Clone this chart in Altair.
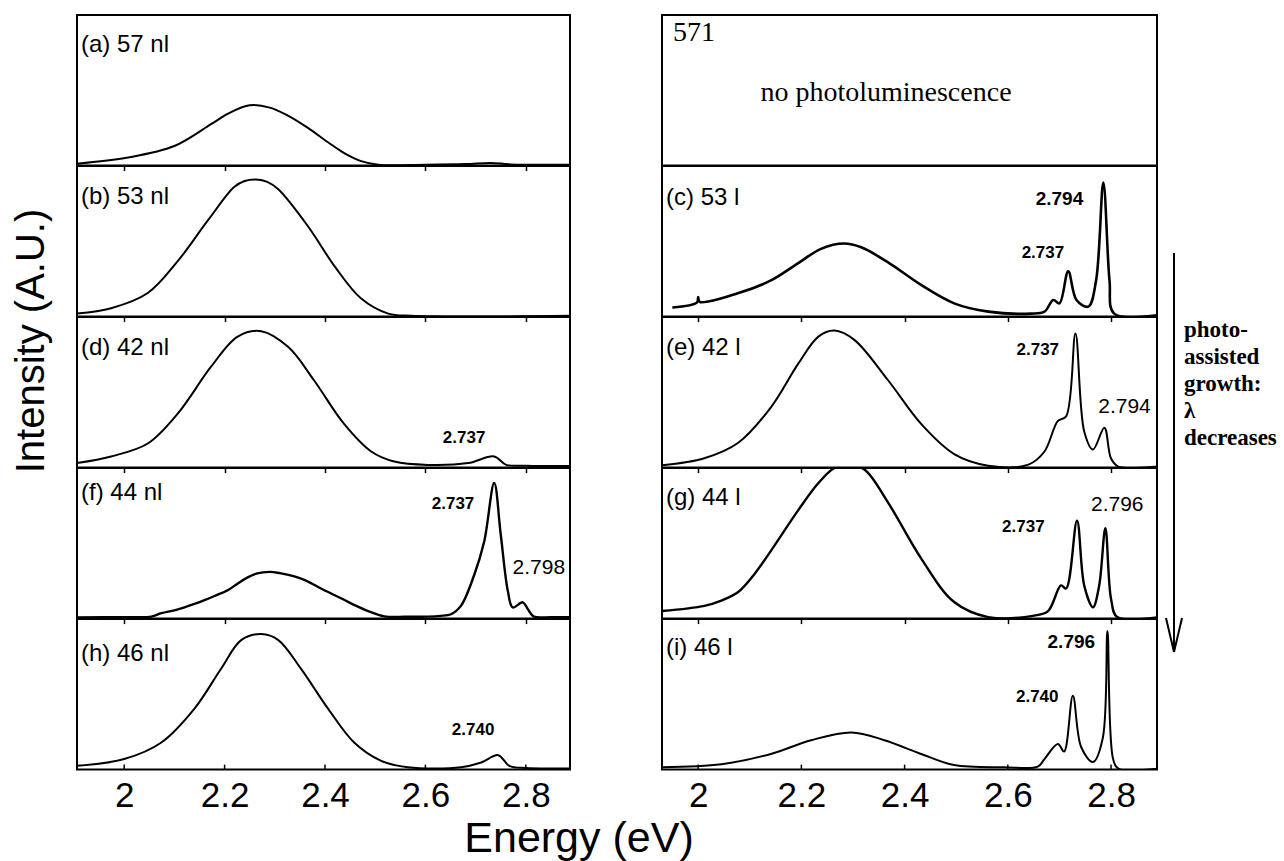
import altair as alt
import pandas as pd

# ---------------- data ----------------
TICK_VALUES = [2.0, 2.2, 2.4, 2.6, 2.8]
LEFT_DOMAIN = [1.906, 2.888]
RIGHT_DOMAIN = [1.930, 2.889]

# (a) 57 nl
A_E = [1.906, 2.008, 2.10, 2.173, 2.207, 2.25, 2.29, 2.327, 2.366, 2.406, 2.44, 2.472, 2.506, 2.60, 2.68, 2.73, 2.77, 2.888]
A_I = [0.013, 0.054, 0.13, 0.275, 0.345, 0.40, 0.385, 0.33, 0.25, 0.155, 0.08, 0.03, 0.006, 0.006, 0.01, 0.018, 0.008, 0.006]

# (b) 53 nl
B_E = [1.906, 1.974, 2.047, 2.107, 2.167, 2.219, 2.24, 2.263, 2.285, 2.307, 2.366, 2.42, 2.472, 2.526, 2.572, 2.888]
B_I = [0.02, 0.056, 0.157, 0.37, 0.64, 0.86, 0.90, 0.91, 0.895, 0.845, 0.60, 0.33, 0.12, 0.02, 0.005, 0.005]

# (d) 42 nl
D_E = [1.906, 1.974, 2.047, 2.107, 2.173, 2.226, 2.273, 2.327, 2.378, 2.438, 2.492, 2.538, 2.605, 2.685, 2.737, 2.761, 2.80, 2.888]
D_I = [0.03, 0.074, 0.16, 0.36, 0.67, 0.87, 0.906, 0.80, 0.58, 0.29, 0.107, 0.04, 0.018, 0.03, 0.074, 0.018, 0.013, 0.01]

# (f) 44 nl
F_E = [1.906, 2.0, 2.054, 2.074, 2.10, 2.12, 2.14, 2.16, 2.18, 2.207, 2.225, 2.247, 2.265, 2.289, 2.31,
       2.339, 2.36, 2.375, 2.392, 2.415, 2.438, 2.46, 2.486, 2.518, 2.56, 2.605, 2.63, 2.651, 2.671, 2.697,
       2.717, 2.737, 2.75, 2.764, 2.774, 2.794, 2.804, 2.816, 2.85, 2.888]
F_I = [0.008, 0.01, 0.013, 0.036, 0.055, 0.075, 0.097, 0.122, 0.15, 0.19, 0.23, 0.275, 0.30, 0.31, 0.302,
       0.28, 0.255, 0.23, 0.2, 0.162, 0.125, 0.088, 0.05, 0.015, 0.012, 0.013, 0.018, 0.029, 0.086, 0.288,
       0.51, 0.90, 0.56, 0.187, 0.074, 0.108, 0.063, 0.013, 0.01, 0.01]

# (h) 46 nl
H_E = [1.906, 2.0, 2.074, 2.14, 2.193, 2.233, 2.273, 2.307, 2.352, 2.406, 2.458, 2.512, 2.565, 2.671, 2.711, 2.745, 2.767, 2.80, 2.888]
H_I = [0.025, 0.07, 0.18, 0.405, 0.67, 0.86, 0.90, 0.86, 0.67, 0.405, 0.18, 0.058, 0.016, 0.016, 0.047, 0.096, 0.025, 0.01, 0.008]

# (c) 53 l
C_E = [1.95, 1.998, 2.0, 2.003, 2.077, 2.141, 2.194, 2.238, 2.283, 2.316, 2.368, 2.432, 2.496, 2.562, 2.645,
       2.671, 2.688, 2.70, 2.717, 2.733, 2.756, 2.771, 2.785, 2.797, 2.806, 2.889]
C_I = [0.06, 0.095, 0.13, 0.098, 0.155, 0.24, 0.355, 0.45, 0.485, 0.46, 0.36, 0.21, 0.088, 0.033, 0.02,
       0.033, 0.11, 0.088, 0.30, 0.11, 0.066, 0.24, 0.89, 0.24, 0.02, 0.008]

# (e) 42 l
E_E = [1.93, 2.012, 2.077, 2.141, 2.194, 2.233, 2.264, 2.302, 2.368, 2.432, 2.496, 2.562, 2.64, 2.671,
       2.697, 2.713, 2.731, 2.748, 2.765, 2.787, 2.80, 2.814, 2.889]
E_I = [0.015, 0.062, 0.163, 0.40, 0.69, 0.87, 0.91, 0.85, 0.58, 0.29, 0.09, 0.013, 0.02, 0.107,
       0.31, 0.34, 0.89, 0.24, 0.12, 0.264, 0.06, 0.007, 0.007]

# (g) 44 l
G_E = [1.93, 2.012, 2.045, 2.077, 2.11, 2.141, 2.194, 2.233, 2.264, 2.29, 2.322, 2.368, 2.432, 2.496, 2.562, 2.651,
       2.678, 2.703, 2.713, 2.734, 2.748, 2.765, 2.777, 2.789, 2.80, 2.812, 2.889]
G_I = [0.05, 0.085, 0.12, 0.175, 0.30, 0.45, 0.72, 0.90, 1.0, 1.02, 0.99, 0.77, 0.40, 0.11, 0.01, 0.02,
       0.05, 0.22, 0.20, 0.65, 0.22, 0.075, 0.22, 0.60, 0.13, 0.01, 0.008]

# (i) 46 l
I_E = [1.93, 2.045, 2.141, 2.219, 2.297, 2.361, 2.432, 2.496, 2.593, 2.658, 2.671, 2.697, 2.709, 2.726,
       2.742, 2.765, 2.784, 2.793, 2.804, 2.815, 2.889]
I_I = [0.016, 0.036, 0.104, 0.195, 0.247, 0.195, 0.104, 0.03, 0.016, 0.02, 0.07, 0.17, 0.12, 0.49,
       0.15, 0.05, 0.21, 0.92, 0.07, 0.005, 0.005]

# panel labels
LEFT_LABELS = ["(a) 57 nl", "(b) 53 nl", "(d) 42 nl", "(f) 44 nl", "(h) 46 nl"]
RIGHT_LABELS = ["(c) 53 l", "(e) 42 l", "(g) 44 l", "(i) 46 l"]

# peak labels: energy position, intensity position, text
D_PK_E, D_PK_I, D_PK_T = [2.677], [0.197], ["2.737"]
F_PK_E, F_PK_I, F_PK_T = [2.655], [0.76], ["2.737"]
F_BIG_E, F_BIG_I, F_BIG_T = [2.826], [0.333], ["2.798"]
H_PK_E, H_PK_I, H_PK_T = [2.695], [0.26], ["2.740"]
C_PK_E, C_PK_I, C_PK_T = [2.668], [0.42], ["2.737"]
C_MID_E, C_MID_I, C_MID_T = [2.70], [0.78], ["2.794"]
E_PK_E, E_PK_I, E_PK_T = [2.658], [0.78], ["2.737"]
E_BIG_E, E_BIG_I, E_BIG_T = [2.826], [0.40], ["2.794"]
G_PK_E, G_PK_I, G_PK_T = [2.63], [0.61], ["2.737"]
G_BIG_E, G_BIG_I, G_BIG_T = [2.812], [0.755], ["2.796"]
I_PK_E, I_PK_I, I_PK_T = [2.657], [0.48], ["2.740"]
I_MID_E, I_MID_I, I_MID_T = [2.723], [0.85], ["2.796"]

# ---------------- layout / style ----------------
W_L, W_R, H = 493, 495, 150.6
SANS = "Liberation Sans"
SERIF = "Liberation Serif"


def xenc(domain, bottom):
    return alt.X(
        "E:Q",
        scale=alt.Scale(domain=domain, nice=False, zero=False),
        axis=alt.Axis(values=TICK_VALUES, format="~g", labels=bottom, title=None,
                      domain=False, grid=False, ticks=not bottom, tickSize=5, tickWidth=1.5,
                      tickColor="black", labelFont=SANS, labelFontSize=35,
                      labelColor="black", labelPadding=9, labelFlush=False),
    )


YENC = alt.Y("I:Q", scale=alt.Scale(domain=[0, 1], nice=False, zero=False), axis=None)


def text_layer(x, vals, size, weight):
    e, i, t = vals
    return (
        alt.Chart(pd.DataFrame({"E": e, "I": i, "t": t}))
        .mark_text(font=SANS, fontSize=size, fontWeight=weight, color="black",
                   align="center", baseline="middle")
        .encode(x=x, y=YENC, text="t:N")
    )


def panel(E, I, domain, width, label, label_y, peaks=None, mids=None, bigs=None, bottom=False,
          stroke=2.0, extra=None):
    x = xenc(domain, bottom)
    layers = [
        alt.Chart(pd.DataFrame({"E": E, "I": I}))
        .mark_line(color="black", strokeWidth=stroke, interpolate="catmull-rom", clip=True)
        .encode(x=x, y=YENC)
    ]
    if bottom:
        layers.append(
            alt.Chart(pd.DataFrame({"E": TICK_VALUES}))
            .mark_rule(color="black", strokeWidth=1.5)
            .encode(x=x, y=alt.value(H), y2=alt.value(H - 5))
        )
    if peaks:
        layers.append(text_layer(x, peaks, 17, "bold"))
    if mids:
        layers.append(text_layer(x, mids, 19, "bold"))
    if bigs:
        layers.append(text_layer(x, bigs, 21, "normal"))
    layers.append(
        alt.Chart().mark_text(text=label, font=SANS, fontSize=24, color="black",
                              align="left", baseline="middle")
        .encode(x=alt.value(4), y=alt.value(label_y))
    )
    if extra:
        layers.extend(extra)
    return alt.layer(*layers).properties(width=width, height=H)


# extra annotations ------------------------------------------------------
anchor = alt.Chart().mark_text(text=".", opacity=0, fontSize=2, align="left", baseline="top").encode(
    x=alt.value(-76), y=alt.value(-14))
ylab = alt.Chart().mark_text(text="Intensity (A.U.)", font=SANS, fontSize=40, angle=270,
                             align="center", baseline="middle", color="black").encode(
    x=alt.value(-45), y=alt.value(326))
xlab = alt.Chart().mark_text(text="Energy (eV)", font=SANS, fontSize=43, align="center",
                             baseline="alphabetic", color="black").encode(
    x=alt.value(502), y=alt.value(233))

arrow_shaft = alt.Chart().mark_rule(color="black", strokeWidth=2).encode(
    x=alt.value(512), y=alt.value(87), y2=alt.value(485))
arrow_l = alt.Chart().mark_rule(color="black", strokeWidth=2).encode(
    x=alt.value(504), x2=alt.value(512), y=alt.value(452), y2=alt.value(486))
arrow_r = alt.Chart().mark_rule(color="black", strokeWidth=2).encode(
    x=alt.value(520), x2=alt.value(512), y=alt.value(452), y2=alt.value(486))
side_text = alt.Chart().mark_text(text="photo-\nassisted\ngrowth:\nλ\ndecreases", lineBreak="\n",
                                  lineHeight=27, font=SERIF, fontSize=23, fontWeight="bold",
                                  align="left", baseline="middle", color="black").encode(
    x=alt.value(522), y=alt.value(13))

# top-right (no PL) panel
top_right = alt.layer(
    alt.Chart().mark_text(text="571", font=SERIF, fontSize=28, align="left", baseline="middle",
                          color="black").encode(x=alt.value(11), y=alt.value(18)),
    alt.Chart().mark_text(text="no photoluminescence", font=SERIF, fontSize=28, align="center",
                          baseline="middle", color="black").encode(x=alt.value(224), y=alt.value(78)),
).properties(width=W_R, height=H)

pa = panel(A_E, A_I, LEFT_DOMAIN, W_L, LEFT_LABELS[0], 30, extra=[anchor, ylab])
pb = panel(B_E, B_I, LEFT_DOMAIN, W_L, LEFT_LABELS[1], 31)
pc = panel(C_E, C_I, RIGHT_DOMAIN, W_R, RIGHT_LABELS[0], 32, peaks=(C_PK_E, C_PK_I, C_PK_T),
           mids=(C_MID_E, C_MID_I, C_MID_T), stroke=2.6, extra=[arrow_shaft, arrow_l, arrow_r])
pd_ = panel(D_E, D_I, LEFT_DOMAIN, W_L, LEFT_LABELS[2], 31, peaks=(D_PK_E, D_PK_I, D_PK_T))
pe = panel(E_E, E_I, RIGHT_DOMAIN, W_R, RIGHT_LABELS[1], 31, peaks=(E_PK_E, E_PK_I, E_PK_T),
           bigs=(E_BIG_E, E_BIG_I, E_BIG_T), extra=[side_text])
pf = panel(F_E, F_I, LEFT_DOMAIN, W_L, LEFT_LABELS[3], 25, peaks=(F_PK_E, F_PK_I, F_PK_T),
           bigs=(F_BIG_E, F_BIG_I, F_BIG_T), stroke=2.4)
pg = panel(G_E, G_I, RIGHT_DOMAIN, W_R, RIGHT_LABELS[2], 30, peaks=(G_PK_E, G_PK_I, G_PK_T),
           bigs=(G_BIG_E, G_BIG_I, G_BIG_T), stroke=2.4)
ph = panel(H_E, H_I, LEFT_DOMAIN, W_L, LEFT_LABELS[4], 35, peaks=(H_PK_E, H_PK_I, H_PK_T),
           bottom=True, extra=[xlab])
pi = panel(I_E, I_I, RIGHT_DOMAIN, W_R, RIGHT_LABELS[3], 29, peaks=(I_PK_E, I_PK_I, I_PK_T),
           mids=(I_MID_E, I_MID_I, I_MID_T), bottom=True)

chart = (
    alt.concat(pa, top_right, pb, pc, pd_, pe, pf, pg, ph, pi, columns=2,
               spacing={"row": 0, "column": 92}, bounds="flush")
    .properties(padding=0, background="white")
    .configure_view(stroke="black", strokeWidth=2)
)

chart.save("out.html", embed_options={"renderer": "svg", "actions": False})
